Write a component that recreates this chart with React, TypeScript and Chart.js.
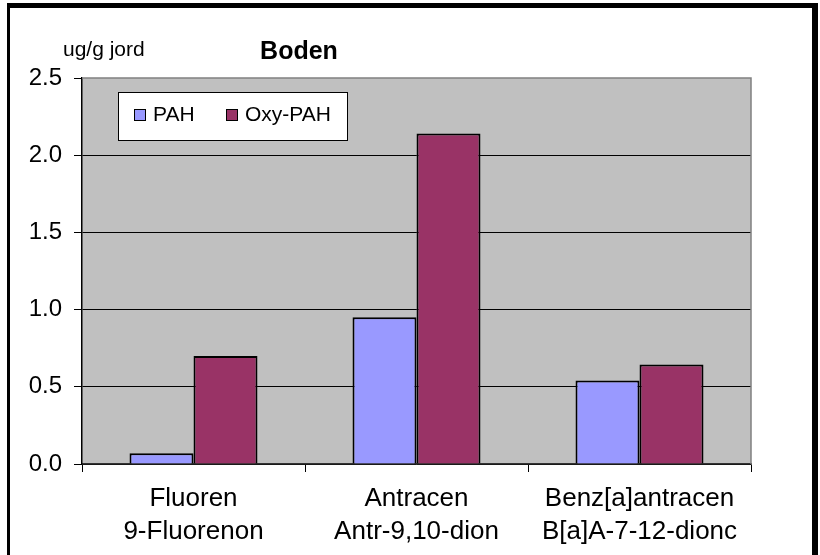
import React, { useEffect, useRef } from "react";
import { Chart, registerables } from "chart.js";

Chart.register(...registerables);

const categories: string[][] = [
  ["Fluoren", "9-Fluorenon"],
  ["Antracen", "Antr-9,10-dion"],
  ["Benz[a]antracen", "B[a]A-7-12-dionc"],
];
const seriesNames = ["PAH", "Oxy-PAH"];
const pahValues = [0.07, 0.95, 0.54];
const oxyPahValues = [0.7, 2.14, 0.645];
const yTicks = [0, 0.5, 1.0, 1.5, 2.0, 2.5];
const chartTitle = "Boden";
const yUnitLabel = "ug/g jord";

const FONT = "'Liberation Sans', Arial, sans-serif";
const PAH_COLOR = "#9999FF";
const OXY_COLOR = "#993366";
const PLOT_BG = "#C0C0C0";

const decorPlugin = {
  id: "decor",
  beforeDraw(chart: any) {
    const { ctx, chartArea } = chart;
    ctx.save();
    ctx.fillStyle = "#ffffff";
    ctx.fillRect(0, 0, chart.width, chart.height);
    ctx.fillStyle = PLOT_BG;
    ctx.fillRect(chartArea.left, chartArea.top, chartArea.right - chartArea.left, chartArea.bottom - chartArea.top);
    ctx.restore();
  },
  afterDraw(chart: any) {
    const { ctx, chartArea } = chart;
    ctx.save();
    // plot border top/right (gray)
    ctx.strokeStyle = "#808080";
    ctx.lineWidth = 1.5;
    ctx.beginPath();
    ctx.moveTo(chartArea.left, chartArea.top);
    ctx.lineTo(chartArea.right, chartArea.top);
    ctx.lineTo(chartArea.right, chartArea.bottom);
    ctx.stroke();

    // title and unit label
    ctx.fillStyle = "#000";
    ctx.textBaseline = "alphabetic";
    ctx.font = `bold 25px ${FONT}`;
    ctx.textAlign = "center";
    ctx.fillText(chartTitle, 299, 59);
    ctx.font = `21px ${FONT}`;
    ctx.textAlign = "left";
    ctx.fillText(yUnitLabel, 63, 56);

    // legend
    const lx = 118, ly = 92, lw = 229, lh = 48;
    ctx.fillStyle = "#fff";
    ctx.fillRect(lx, ly, lw, lh);
    ctx.strokeStyle = "#000";
    ctx.lineWidth = 1;
    ctx.strokeRect(lx + 0.5, ly + 0.5, lw, lh);
    const items = chart.data.datasets.map((d: any) => ({ label: d.label, color: d.backgroundColor }));
    const itemX = [134, 226];
    ctx.font = `21px ${FONT}`;
    items.forEach((it: any, i: number) => {
      const x = itemX[i];
      ctx.fillStyle = it.color;
      ctx.fillRect(x, 109, 12, 12);
      ctx.strokeStyle = "#000";
      ctx.lineWidth = 1;
      ctx.strokeRect(x + 0.5, 109.5, 11, 11);
      ctx.fillStyle = "#000";
      ctx.textAlign = "left";
      ctx.fillText(it.label, x + 19, 121);
    });

    // outer frame
    ctx.fillStyle = "#000";
    ctx.fillRect(7, 3, 811, 5);
    ctx.fillRect(7, 3, 3, chart.height);
    ctx.fillRect(812, 3, 6, chart.height);
    ctx.restore();
  },
};

export default function App() {
  const ref = useRef<HTMLCanvasElement | null>(null);
  useEffect(() => {
    document.body.style.margin = "0";
    if (!ref.current) return;
    const chart = new Chart(ref.current, {
      type: "bar",
      data: {
        labels: categories,
        datasets: [
          {
            label: seriesNames[0],
            data: pahValues,
            backgroundColor: PAH_COLOR,
            borderColor: "#000",
            borderWidth: 2,
          },
          {
            label: seriesNames[1],
            data: oxyPahValues,
            backgroundColor: OXY_COLOR,
            borderColor: "#000",
            borderWidth: 2,
          },
        ],
      },
      options: {
        responsive: false,
        animation: false,
        devicePixelRatio: 1,
        layout: { padding: { left: 0, right: 69, top: 78, bottom: 0 } },
        datasets: { bar: { categoryPercentage: 0.574, barPercentage: 1 } },
        plugins: {
          legend: { display: false },
          title: { display: false },
          tooltip: { enabled: false },
        },
        scales: {
          x: {
            afterFit(scale: any) {
              scale.height = 91;
            },
            grid: {
              offset: true,
              drawOnChartArea: false,
              drawTicks: true,
              tickLength: 8,
              color: "#000",
            },
            border: { color: "#333", width: 1.5 },
            ticks: {
              color: "#000",
              padding: 10,
              maxRotation: 0,
              autoSkip: false,
              font: { family: FONT, size: 26, lineHeight: 1.27 },
            },
          },
          y: {
            min: 0,
            max: 2.5,
            afterFit(scale: any) {
              scale.width = 82;
            },
            afterBuildTicks(scale: any) {
              scale.ticks = yTicks.map((v) => ({ value: v }));
            },
            grid: {
              color: (c: any) => (c.tick && c.tick.value === 2.5 ? "rgba(0,0,0,0)" : "#000"),
              tickColor: "#000",
              tickLength: 8,
              lineWidth: 1,
            },
            border: { color: "#000", width: 1.5 },
            ticks: {
              color: "#000",
              padding: 12,
              font: { family: FONT, size: 24 },
              callback: (v: any) => Number(v).toFixed(1),
            },
          },
        },
      },
      plugins: [decorPlugin],
    });
    return () => chart.destroy();
  }, []);
  return <canvas ref={ref} width={820} height={555} style={{ display: "block" }} />;
}
